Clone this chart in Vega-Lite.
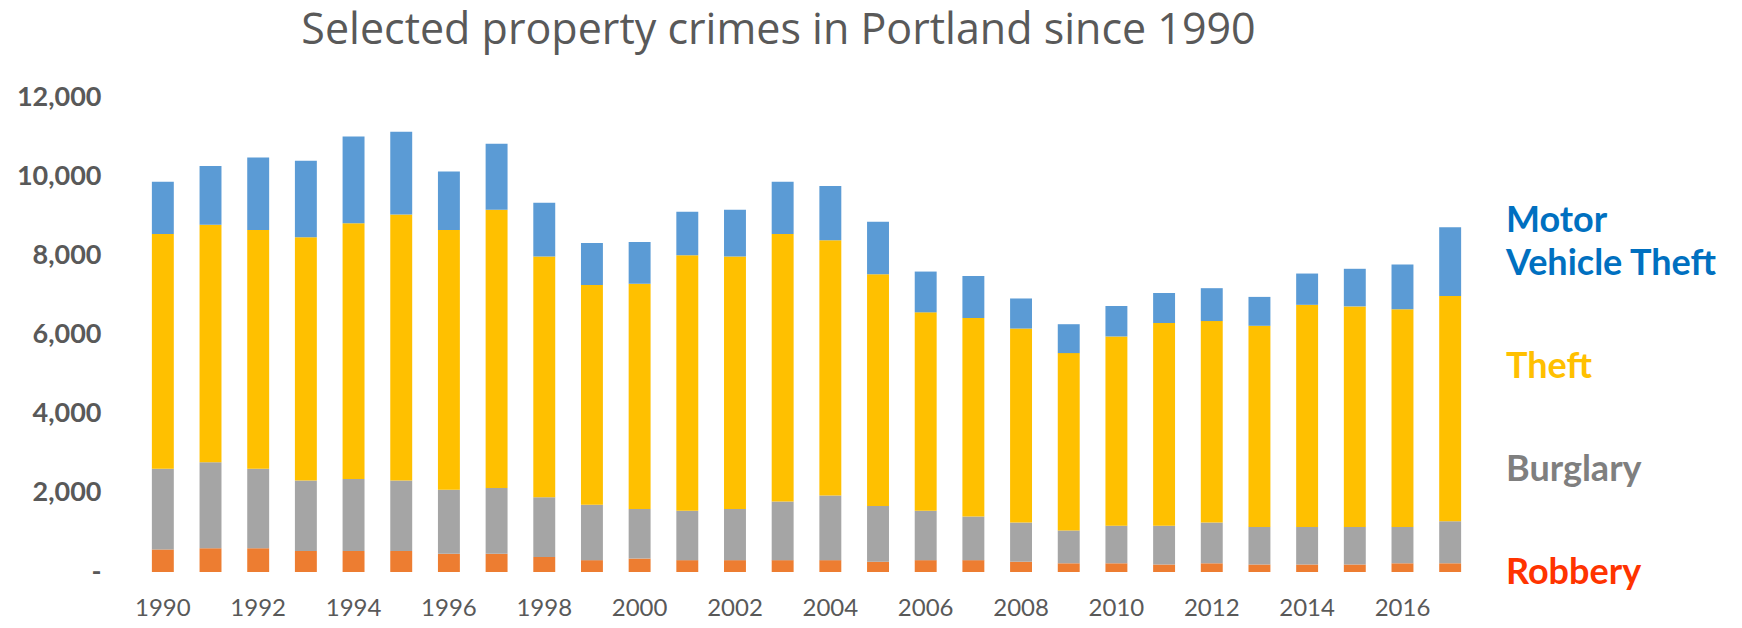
{
  "$schema": "https://vega.github.io/schema/vega-lite/v6.json",
  "width": 1335,
  "height": 475,
  "autosize": "none",
  "padding": {"left": 139, "top": 97, "right": 268, "bottom": 56},
  "background": "white",
  "title": {
    "text": "Selected property crimes in Portland since 1990",
    "font": "Open Sans",
    "fontWeight": "normal",
    "fontSize": 43,
    "color": "#595959",
    "anchor": "middle",
    "frame": "group",
    "dx": -28,
    "offset": 30
  },
  "data": {
    "values": [
      {"year": 1990, "Robbery": 570, "Burglary": 2040, "Theft": 5930, "Motor Vehicle Theft": 1320},
      {"year": 1991, "Robbery": 600, "Burglary": 2170, "Theft": 6000, "Motor Vehicle Theft": 1490},
      {"year": 1992, "Robbery": 600, "Burglary": 2010, "Theft": 6030, "Motor Vehicle Theft": 1830},
      {"year": 1993, "Robbery": 530, "Burglary": 1780, "Theft": 6150, "Motor Vehicle Theft": 1930},
      {"year": 1994, "Robbery": 530, "Burglary": 1820, "Theft": 6460, "Motor Vehicle Theft": 2190},
      {"year": 1995, "Robbery": 530, "Burglary": 1780, "Theft": 6720, "Motor Vehicle Theft": 2090},
      {"year": 1996, "Robbery": 460, "Burglary": 1620, "Theft": 6560, "Motor Vehicle Theft": 1480},
      {"year": 1997, "Robbery": 460, "Burglary": 1660, "Theft": 7030, "Motor Vehicle Theft": 1670},
      {"year": 1998, "Robbery": 380, "Burglary": 1510, "Theft": 6080, "Motor Vehicle Theft": 1360},
      {"year": 1999, "Robbery": 300, "Burglary": 1400, "Theft": 5550, "Motor Vehicle Theft": 1060},
      {"year": 2000, "Robbery": 340, "Burglary": 1250, "Theft": 5690, "Motor Vehicle Theft": 1060},
      {"year": 2001, "Robbery": 300, "Burglary": 1250, "Theft": 6450, "Motor Vehicle Theft": 1100},
      {"year": 2002, "Robbery": 300, "Burglary": 1290, "Theft": 6380, "Motor Vehicle Theft": 1180},
      {"year": 2003, "Robbery": 300, "Burglary": 1480, "Theft": 6760, "Motor Vehicle Theft": 1320},
      {"year": 2004, "Robbery": 300, "Burglary": 1630, "Theft": 6450, "Motor Vehicle Theft": 1370},
      {"year": 2005, "Robbery": 260, "Burglary": 1410, "Theft": 5850, "Motor Vehicle Theft": 1330},
      {"year": 2006, "Robbery": 300, "Burglary": 1250, "Theft": 5010, "Motor Vehicle Theft": 1030},
      {"year": 2007, "Robbery": 300, "Burglary": 1100, "Theft": 5020, "Motor Vehicle Theft": 1060},
      {"year": 2008, "Robbery": 260, "Burglary": 990, "Theft": 4900, "Motor Vehicle Theft": 760},
      {"year": 2009, "Robbery": 220, "Burglary": 830, "Theft": 4480, "Motor Vehicle Theft": 730},
      {"year": 2010, "Robbery": 220, "Burglary": 950, "Theft": 4780, "Motor Vehicle Theft": 770},
      {"year": 2011, "Robbery": 190, "Burglary": 980, "Theft": 5120, "Motor Vehicle Theft": 760},
      {"year": 2012, "Robbery": 220, "Burglary": 1030, "Theft": 5090, "Motor Vehicle Theft": 830},
      {"year": 2013, "Robbery": 190, "Burglary": 950, "Theft": 5080, "Motor Vehicle Theft": 730},
      {"year": 2014, "Robbery": 190, "Burglary": 950, "Theft": 5610, "Motor Vehicle Theft": 790},
      {"year": 2015, "Robbery": 190, "Burglary": 950, "Theft": 5570, "Motor Vehicle Theft": 950},
      {"year": 2016, "Robbery": 220, "Burglary": 920, "Theft": 5500, "Motor Vehicle Theft": 1130},
      {"year": 2017, "Robbery": 220, "Burglary": 1060, "Theft": 5690, "Motor Vehicle Theft": 1740}
    ]
  },
  "transform": [
    {"fold": ["Robbery", "Burglary", "Theft", "Motor Vehicle Theft"], "as": ["series", "count"]},
    {"window": [{"op": "row_number", "as": "stackRank"}], "groupby": ["year"]}
  ],
  "mark": {"type": "bar"},
  "encoding": {
    "x": {
      "field": "year",
      "type": "ordinal",
      "scale": {"paddingInner": 0.54, "paddingOuter": 0.27},
      "axis": {
        "values": [1990, 1992, 1994, 1996, 1998, 2000, 2002, 2004, 2006, 2008, 2010, 2012, 2014, 2016],
        "labelAngle": 0,
        "title": null,
        "domain": false,
        "ticks": false,
        "grid": false,
        "labelFont": "Lato",
        "labelFontSize": 24,
        "labelColor": "#595959",
        "labelPadding": 24
      }
    },
    "y": {
      "field": "count",
      "type": "quantitative",
      "stack": "zero",
      "scale": {"domain": [0, 12000], "nice": false},
      "axis": {
        "values": [0, 2000, 4000, 6000, 8000, 10000, 12000],
        "labelExpr": "datum.value == 0 ? '-' : format(datum.value, ',')",
        "title": null,
        "grid": false,
        "domain": false,
        "ticks": false,
        "labelFont": "Lato",
        "labelFontWeight": "bold",
        "labelFontSize": 27,
        "labelColor": "#595959",
        "labelPadding": 38
      }
    },
    "order": {"field": "stackRank", "type": "quantitative", "sort": "ascending"},
    "color": {
      "field": "series",
      "type": "nominal",
      "scale": {
        "domain": ["Robbery", "Burglary", "Theft", "Motor Vehicle Theft"],
        "range": ["#ED7D31", "#A5A5A5", "#FFC000", "#5B9BD5"]
      },
      "legend": {
        "orient": "none",
        "legendX": 1331,
        "legendY": 106,
        "values": ["Motor Vehicle Theft", "Theft", "Burglary", "Robbery"],
        "title": null,
        "padding": 0,
        "symbolSize": 0,
        "symbolOpacity": 0,
        "symbolStrokeWidth": 0,
        "labelOffset": 0,
        "labelLimit": 0,
        "labelFont": "Lato",
        "labelFontSize": 36,
        "labelFontWeight": "bold",
        "rowPadding": 67,
        "labelExpr": "datum.value == 'Motor Vehicle Theft' ? ['Motor', 'Vehicle Theft'] : datum.value",
        "encode": {
          "labels": {
            "update": {
              "lineHeight": {"value": 43},
              "fill": {"signal": "datum.value == 'Motor Vehicle Theft' ? '#0070C0' : datum.value == 'Theft' ? '#FFC000' : datum.value == 'Burglary' ? '#7F7F7F' : '#FF3300'"}
            }
          }
        }
      }
    }
  },
  "config": {"view": {"stroke": null}}
}
